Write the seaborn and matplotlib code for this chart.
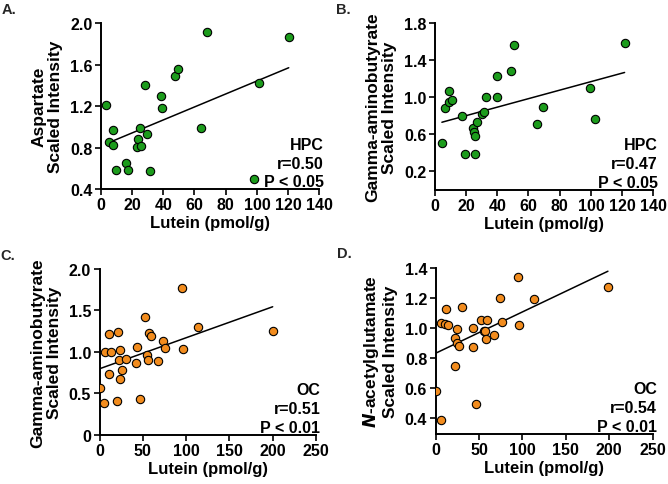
import matplotlib
matplotlib.use("Agg")
import matplotlib.pyplot as plt
import seaborn as sns
import pandas as pd

sns.set_theme(style="ticks")
plt.rcParams['font.family'] = ['Liberation Sans', 'DejaVu Sans']
plt.rcParams['font.weight'] = 'bold'

# Panel A: HPC, Aspartate
a_lutein = [3.2, 7.7, 5.5, 7.7, 9.8, 15.8, 17.3, 23.0, 23.7, 24.8, 26.0, 28.6, 29.7, 31.6,
            38.6, 39.3, 47.6, 49.5, 64.2, 67.9, 98.4, 101.2, 120.4]
a_value = [1.21, 0.97, 0.857, 0.825, 0.587, 0.651, 0.58, 0.81, 0.88, 0.99, 0.82, 1.40, 0.93, 0.57,
           1.30, 1.18, 1.495, 1.556, 0.99, 1.92, 0.50, 1.42, 1.865]

# Panel B: HPC, Gamma-aminobutyrate
b_lutein = [4.5, 6.8, 9.0, 9.2, 11.3, 17.1, 19.0, 24.3, 25.2, 26.0, 25.6, 27.3, 30.1, 31.2,
            32.9, 39.9, 40.1, 48.9, 51.0, 65.7, 69.4, 99.7, 102.6, 121.6]
b_value = [0.508, 0.88, 1.062, 0.946, 0.968, 0.797, 0.381, 0.671, 0.62, 0.584, 0.381, 0.732, 0.816, 0.837,
           1.0, 1.228, 1.0, 1.282, 1.565, 0.707, 0.899, 1.10, 0.761, 1.586]

# Panel C: OC, Gamma-aminobutyrate
c_lutein = [0.0, 5.0, 6.5, 10.8, 10.8, 13.8, 19.6, 21.2, 22.3, 23.1, 23.8, 25.8, 30.4, 41.9,
            43.1, 46.9, 52.7, 54.6, 55.8, 57.3, 59.6, 67.7, 73.8, 75.8, 95.0, 96.2, 113.8, 200.0]
c_value = [0.565, 0.387, 1.0, 0.726, 1.218, 0.996, 0.411, 1.242, 0.907, 1.02, 0.677, 0.786, 0.911, 0.863,
           1.056, 0.431, 1.423, 0.956, 0.899, 1.222, 1.19, 0.895, 1.133, 1.044, 1.778, 1.032, 1.302, 1.25]

# Panel D: OC, N-acetylglutamate
d_lutein = [1.1, 6.1, 6.8, 11.4, 12.2, 14.8, 22.4, 22.4, 24.3, 24.7, 27.0, 30.8, 42.6, 43.7,
            46.8, 52.9, 55.9, 56.7, 58.6, 59.7, 67.7, 74.1, 76.4, 95.4, 96.2, 113.3, 198.5]
d_value = [0.585, 0.391, 1.03, 1.026, 1.127, 1.019, 0.748, 0.937, 0.993, 0.898, 0.88, 1.14, 1.001, 0.871,
           0.497, 1.054, 0.979, 0.98, 0.929, 1.054, 0.955, 1.197, 1.041, 1.338, 1.017, 1.193, 1.274]

green = "#1c9c1c"
orange = "#f28c1e"

panels = [
    dict(letter="A.", x=a_lutein, y=a_value, color=green, ylabel="Aspartate\nScaled Intensity",
         xlim=(0, 140), xticks=[0, 20, 40, 60, 80, 100, 120, 140],
         ylim=(0.4, 2.0), yticks=[0.4, 0.8, 1.2, 1.6, 2.0], yfmt="{:.1f}",
         texts=["HPC", "r=0.50", "P < 0.05"],
         rect=[0.151, 0.608, 0.327, 0.342]),
    dict(letter="B.", x=b_lutein, y=b_value, color=green, ylabel="Gamma-aminobutyrate\nScaled Intensity",
         xlim=(0, 140), xticks=[0, 20, 40, 60, 80, 100, 120, 140],
         ylim=(0.0, 1.8), yticks=[0.2, 0.6, 1.0, 1.4, 1.8], yfmt="{:.1f}",
         texts=["HPC", "r=0.47", "P < 0.05"],
         rect=[0.651, 0.607, 0.327, 0.343]),
    dict(letter="C.", x=c_lutein, y=c_value, color=orange, ylabel="Gamma-aminobutyrate\nScaled Intensity",
         xlim=(0, 250), xticks=[0, 50, 100, 150, 200, 250],
         ylim=(0.0, 2.0), yticks=[0.0, 0.5, 1.0, 1.5, 2.0], yfmt="C",
         texts=["OC", "r=0.51", "P < 0.01"],
         rect=[0.149, 0.102, 0.324, 0.341]),
    dict(letter="D.", x=d_lutein, y=d_value, color=orange, ylabel="$\\boldsymbol{N}$-acetylglutamate\nScaled Intensity",
         xlim=(0, 250), xticks=[0, 50, 100, 150, 200, 250],
         ylim=(0.3, 1.4), yticks=[0.4, 0.6, 0.8, 1.0, 1.2, 1.4], yfmt="{:.1f}",
         texts=["OC", "r=0.54", "P < 0.01"],
         rect=[0.652, 0.104, 0.325, 0.342]),
]

fig = plt.figure(figsize=(6.68, 4.85), dpi=100)

for p in panels:
    ax = fig.add_axes(p["rect"])
    df = pd.DataFrame({"lutein": p["x"], "value": p["y"]})
    sns.regplot(data=df, x="lutein", y="value", ax=ax, ci=None, truncate=True,
                scatter_kws=dict(s=36, color=p["color"], edgecolor="black", linewidths=0.8, alpha=1, zorder=3),
                line_kws=dict(color="black", lw=1.1, zorder=2))
    ax.set_xlim(*p["xlim"])
    ax.set_ylim(*p["ylim"])
    ax.set_xticks(p["xticks"])
    ax.set_xticklabels([str(t) for t in p["xticks"]])
    ax.set_yticks(p["yticks"])
    if p["yfmt"] == "C":
        ax.set_yticklabels(["0", "0.5", "1.0", "1.5", "2.0"])
    else:
        ax.set_yticklabels([p["yfmt"].format(t) for t in p["yticks"]])
    sns.despine(ax=ax)
    for s in ["left", "bottom"]:
        ax.spines[s].set_linewidth(1.4)
        ax.spines[s].set_color("black")
    ax.tick_params(axis="both", direction="out", length=4, width=1.2, color="black",
                   labelsize=11.5, pad=2, labelcolor="black")
    for lab in ax.get_xticklabels() + ax.get_yticklabels():
        lab.set_fontweight("bold")
    ax.set_xlabel("Lutein (pmol/g)", fontsize=12, fontweight="bold", color="black", labelpad=2)
    ax.set_ylabel(p["ylabel"], fontsize=12.5, fontweight="bold", color="black", labelpad=5,
                  linespacing=1.15)
    ax.grid(False)
    for t, yy in zip(p["texts"], [0.272, 0.157, 0.045]):
        ax.text(1.02, yy, t, transform=ax.transAxes, ha="right", va="center",
                fontsize=11.5, fontweight="bold", color="black")
    fig.text(p["rect"][0] - 0.148, p["rect"][1] + p["rect"][3] + 0.03, p["letter"],
             fontsize=10.5, fontweight="bold", ha="left", va="center")

fig.savefig("out.png", dpi=100)
